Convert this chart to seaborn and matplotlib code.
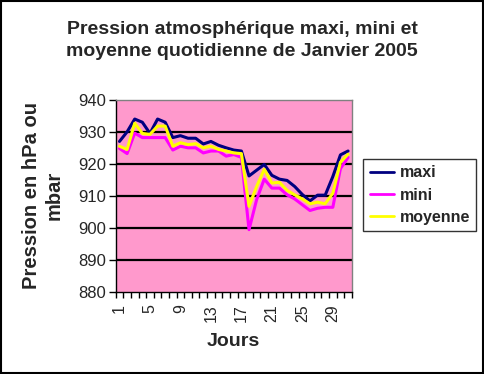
import matplotlib
matplotlib.use("Agg")
import numpy as np
import pandas as pd
import matplotlib.pyplot as plt
import seaborn as sns
from matplotlib.patches import Rectangle

# Data
jours = list(range(1, 32))
maxi = [927, 930, 934, 933, 929.5, 934, 933, 928.2, 928.8, 928, 928, 926.2, 927, 925.8, 925, 924.3, 924,
        916.2, 918, 919.8, 916.4, 915.2, 914.8, 912.9, 910.4, 908.4, 910.2, 910.2, 916, 922.8, 924]
mini = [924.8, 923.2, 929.6, 928.2, 928.2, 928.2, 928.2, 924.3, 925.5, 925, 925, 923.4, 924, 924, 922.4, 922.9, 922,
        899.4, 908.8, 915.2, 912.4, 912.4, 910.3, 909, 907.2, 905.4, 906.1, 906.4, 906.4, 918.5, 922]
moyenne = [925.5, 924.5, 932.7, 929.5, 929.2, 931.8, 931.8, 925.5, 926.6, 926, 926.3, 925, 925.5, 924.5, 924, 923.4, 923.2,
           906.7, 912.9, 918.3, 914, 914.2, 911.7, 910.3, 909, 907.5, 908, 907.5, 910.8, 920.5, 923]
series_names = ["maxi", "mini", "moyenne"]
colors = ["#000080", "#FF00FF", "#FFFF00"]
y_ticks = [880, 890, 900, 910, 920, 930, 940]
x_labels = [1, 5, 9, 13, 17, 21, 25, 29]

df = pd.DataFrame({"Jour": jours * 3,
                   "Pression": maxi + mini + moyenne,
                   "Serie": [s for s in series_names for _ in jours]})

sns.set_style("white")
plt.rcParams["font.family"] = ["Liberation Sans", "DejaVu Sans"]

fig = plt.figure(figsize=(4.84, 3.74), dpi=100)
ax = fig.add_axes([0.239, 0.22, 0.488, 0.513])
ax.set_facecolor("#FF99CC")

# horizontal grid lines
for y in y_ticks[1:-1]:
    ax.axhline(y, color="black", lw=1.6, zorder=1)

sns.lineplot(data=df, x="Jour", y="Pression", hue="Serie", hue_order=series_names,
             palette=colors, lw=2.2, ax=ax, legend=True, zorder=3)

ax.set_xlim(0.5, 31.5)
ax.set_ylim(880, 940)
ax.set_yticks(y_ticks)
ax.set_yticklabels([str(v) for v in y_ticks], fontsize=12)
ax.set_xticks(x_labels)
ax.set_xticklabels([str(v) for v in x_labels], rotation=90, fontsize=11.5)
ax.set_xticks(np.arange(0.5, 32, 1), minor=True)
ax.tick_params(axis="x", which="major", length=0, pad=9)
ax.tick_params(axis="x", which="minor", length=4, width=1, direction="out", color="black", bottom=True)
ax.tick_params(axis="y", length=5, width=1, direction="out", color="black", left=True, pad=2)

for side in ["left", "bottom"]:
    ax.spines[side].set_color("black")
    ax.spines[side].set_linewidth(1)
for side in ["top", "right"]:
    ax.spines[side].set_color("#808080")
    ax.spines[side].set_linewidth(1)

ax.set_xlabel("Jours", fontsize=14, fontweight="bold", labelpad=8)
ax.set_ylabel("Pression en hPa ou\nmbar", fontsize=14.5, fontweight="bold", labelpad=10, linespacing=1.25)

leg = ax.legend(loc="upper left", bbox_to_anchor=(1.048, 0.692), frameon=True, fontsize=11.5,
                handlelength=1.55, handletextpad=0.33, borderpad=0.4, labelspacing=0.45,
                fancybox=False, borderaxespad=0)
leg.get_frame().set_edgecolor("black")
leg.get_frame().set_linewidth(1)
for t in leg.get_texts():
    t.set_fontweight("bold")
for h in leg.get_lines():
    h.set_linewidth(2)

fig.text(0.5, 0.891, "Pression atmosphérique maxi, mini et\nmoyenne quotidienne de Janvier 2005",
         ha="center", va="center", fontsize=14, fontweight="bold", linespacing=1.4)

# figure border
fig.patches.append(Rectangle((0.002, 0.003), 0.995, 0.994, transform=fig.transFigure,
                             fill=False, edgecolor="black", lw=1.5))

fig.savefig("out.png", dpi=100)
